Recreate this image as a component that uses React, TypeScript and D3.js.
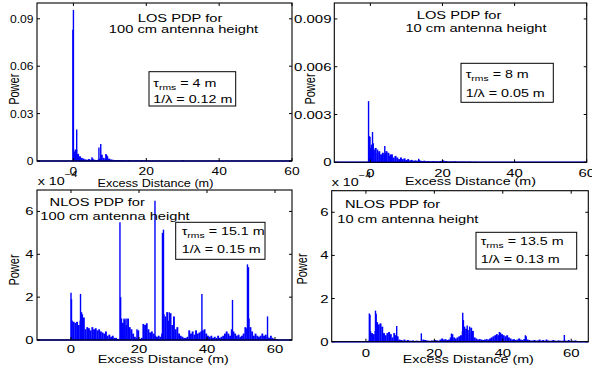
import React from "react";
import * as d3 from "d3";

const FONT = "'Liberation Sans', Arial, Helvetica, sans-serif";
const BLUE = "#0000ff";

// ---------- tick values / labels ----------
const xTicks = [0, 20, 40, 60];
const yTicksLos100 = [0, 0.03, 0.06, 0.09];
const yLabelsLos100 = ["0", "0.03", "0.06", "0.09"];
const yTicksLos10 = [0, 0.003, 0.006, 0.009];
const yLabelsLos10 = ["0", "0.003", "0.006", "0.009"];
const yTicksNlos = [0, 2, 4, 6];
const yLabelsNlos = ["0", "2", "4", "6"];

// ---------- LOS, 100 cm (power) : floor sampled every 0.5 m from 0 m ----------
const los100Floor = [
  0.006, 0.007, 0.0045, 0.003, 0.002, 0.0015, 0.001, 0.0008, 0.0012, 0.0008,
  0.0015, 0.0008, 0.0006, 0.0008, 0.0015, 0.004, 0.002, 0.0015, 0.003, 0.0015,
  0.001, 0.0008, 0.0006, 0.0005, 0.0006, 0.0004, 0.0005, 0.0003, 0.0004, 0.0003,
  0.0005, 0.0003, 0.0002, 0.0002, 0.0003, 0.0002, 0.0002, 0.0004, 0.0002, 0.0001,
  0.0001, 0.0001, 0.00005, 0.0001, 0.00005, 0.00005, 0.0001, 0.00005, 0.00005, 0.00005,
];
const los100Spikes: [number, number][] = [
  [-0.15, 0.083], [0, 0.0956], [0.9, 0.02], [0.5, 0.0073], [5.1, 0.0023],
  [7.0, 0.0085], [7.5, 0.0108], [8.9, 0.0045], [9.1, 0.004], [30, 0.0006],
];

// ---------- LOS, 10 cm (power) : floor every 0.5 m from -0.3 m ----------
const los10Floor = [
  0.0009, 0.0011, 0.0008, 0.0009, 0.0006, 0.0007, 0.0005, 0.0006, 0.0005, 0.0007,
  0.0006, 0.0004, 0.0005, 0.0003, 0.0004, 0.0003, 0.0002, 0.0003, 0.0002, 0.00025,
  0.00015, 0.0002, 0.00012, 0.00015, 0.0001, 0.00012, 0.0001, 0.00015, 0.0001, 0.00008,
  0.0001, 0.00006, 0.00008, 0.00006, 0.00005, 0.00008, 0.00005, 0.00006, 0.00005, 0.00008,
  0.0001, 0.00006, 0.00008, 0.00005, 0.00004, 0.00005, 0.00004, 0.00006, 0.00004, 0.00003,
  0.00004, 0.00003, 0.00004, 0.00003, 0.00003, 0.00004, 0.00003, 0.00002, 0.00003, 0.00002,
];
const los10Spikes: [number, number][] = [
  [-0.5, 0.00384], [-0.3, 0.00164], [-0.1, 0.0016], [0.3, 0.0011], [0.6, 0.0019],
  [0.8, 0.0012], [2.0, 0.0008], [4.0, 0.00103], [4.3, 0.0006], [5.5, 0.0005],
  [13.4, 0.00022], [20.3, 0.00012],
];

// ---------- NLOS, 100 cm (x1e-4) : floor every 0.5 m from 0 m ----------
const nlos100Floor = [
  0.9, 0.85, 0.8, 0.85, 0.7, 0.9, 1.2, 1.05, 0.5, 0.6,
  0.55, 0.45, 0.6, 0.5, 0.55, 0.45, 0.5, 0.4, 0.35, 0.3,
  0.4, 0.2, 0.25, 0.15, 0.2, 0.1, 0.1, 0.05, 0.02, 1.0,
  0.8, 0.95, 0.7, 1.0, 0.6, 0.5, 0.3, 0.15, 0.1, 0.45,
  0.05, 0.1, 0.75, 0.7, 0.78, 0.5, 0.35, 0.4, 0.3, 0.2,
  0.15, 0.2, 0.15, 0.3, 1.2, 1.1, 1.3, 0.9, 1.25, 0.7,
  1.1, 0.5, 0.6, 0.3, 0.2, 0.15, 0.1, 0.1, 0.15, 0.45,
  0.3, 0.4, 0.25, 0.45, 0.3, 0.35, 0.4, 0.45, 0.5, 0.3,
  0.2, 0.15, 0.2, 0.1, 0.15, 0.1, 0.2, 0.1, 0.15, 0.2,
  0.3, 0.4, 0.3, 0.2, 0.5, 0.4, 0.3, 0.2, 0.25, 0.15,
  0.2, 0.3, 0.6, 0.55, 1.0, 0.6, 0.4, 0.2, 0.3, 0.2,
  0.15, 0.2, 0.3, 0.2, 0.25, 0.15, 0.1, 0.2, 0.1, 0.05,
  0.03, 0.02,
];
const nlos100Spikes: [number, number][] = [
  [0, 2.2], [0.15, 1.9], [2.8, 2.15], [3.1, 1.3], [14.4, 5.5], [14.6, 2.0],
  [15.6, 1.0], [16.2, 1.0], [19.4, 0.5], [24.7, 6.5], [26.9, 5.0], [27.2, 5.15],
  [28.9, 1.3], [38.5, 2.15], [47.5, 1.87], [51.9, 3.53], [52.2, 3.4], [57.8, 1.1],
];

// ---------- NLOS, 10 cm (x1e-4) : floor every 0.5 m from 0 m ----------
const nlos10Floor = [
  0, 0.05, 0.5, 0.4, 0.35, 0.5, 0.9, 0.8, 0.85, 0.7,
  0.4, 0.3, 0.4, 0.45, 0.35, 0.2, 0.4, 0.3, 0.25, 0.1,
  0.08, 0.06, 0.1, 0.05, 0.08, 0.05, 0.04, 0.06, 0.03, 0.05,
  0.04, 0.03, 0.05, 0.1, 0.08, 0.06, 0.05, 0.04, 0.06, 0.05,
  0.08, 0.06, 0.05, 0.1, 0.15, 0.1, 0.12, 0.08, 0.1, 0.2,
  0.35, 0.2, 0.15, 0.2, 0.25, 0.3, 0.5, 0.7, 0.6, 0.55,
  0.4, 0.65, 0.5, 0.2, 0.15, 0.1, 0.12, 0.1, 0.08, 0.1,
  0.12, 0.1, 0.15, 0.2, 0.25, 0.3, 0.35, 0.3, 0.42, 0.35,
  0.3, 0.25, 0.3, 0.2, 0.15, 0.1, 0.12, 0.08, 0.1, 0.15,
  0.1, 0.08, 0.12, 0.25, 0.1, 0.08, 0.05, 0.06, 0.08, 0.05,
  0.06, 0.1, 0.05, 0.08, 0.05, 0.1, 0.06, 0.04, 0.05, 0.08,
  0.05, 0.04, 0.06, 0.05, 0.04, 0.05, 0.05, 0.04, 0.08, 0.03,
  0.05, 0.04, 0.06, 0.03, 0.02,
];
const nlos10Spikes: [number, number][] = [
  [1.0, 1.31], [1.2, 1.25], [2.8, 1.44], [3.0, 1.3], [3.3, 0.9], [9.0, 0.73],
  [16.2, 0.39], [25.0, 0.38], [28.3, 1.34], [28.5, 1.0], [29.6, 0.75], [30.3, 0.7],
  [39.0, 0.45], [46.6, 0.3], [58.0, 0.31],
];

type PanelCfg = {
  box: [number, number, number, number];
  xDomain: [number, number];
  yDomain: [number, number];
  floorStart: number;
  floor: number[];
  spikes: [number, number][];
  yTicks: number[];
  yLabels: string[];
  xTickY: number;
  yTickX: number;
  ySx: number;
  xSx: number;
  ylabel: [number, number];
  xlabel: [number, number, number];
  title: [string, number, number][];
  annot: [number, number, number, number];
  annotX: number;
  annotY: [number, number];
  tau: string;
  lam: string;
  expo?: [number, number];
};

const FLOOR_STEP = 0.5;

const panels: PanelCfg[] = [
  {
    box: [37, 292, 3, 161], xDomain: [-10, 60], yDomain: [0, 0.1],
    floorStart: 0, floor: los100Floor, spikes: los100Spikes,
    yTicks: yTicksLos100, yLabels: yLabelsLos100,
    xTickY: 175, yTickX: 33.5, ySx: 1.05, xSx: 1.2,
    ylabel: [15, 89.3], xlabel: [155.4, 187, 1.15],
    title: [["LOS PDP for", 180, 21.7], ["100 cm antenna height", 183.5, 33.3]],
    annot: [149, 71.7, 235.7, 106], annotX: 153.3, annotY: [86.7, 102.7],
    tau: "4 m", lam: "0.12 m",
  },
  {
    box: [334.3, 586.7, 3, 162.3], xDomain: [-10, 60], yDomain: [0, 0.01],
    floorStart: -0.3, floor: los10Floor, spikes: los10Spikes,
    yTicks: yTicksLos10, yLabels: yLabelsLos10,
    xTickY: 177, yTickX: 331.5, ySx: 1.3, xSx: 1.3,
    ylabel: [311, 89], xlabel: [470.5, 185, 1.3],
    title: [["LOS PDP for", 459, 19], ["10 cm antenna height", 476, 31.7]],
    annot: [461, 63.3, 553.3, 102.3], annotX: 465.7, annotY: [78.3, 96.7],
    tau: "8 m", lam: "0.05 m",
  },
  {
    box: [37, 292, 190, 340], xDomain: [-10, 65], yDomain: [0, 7],
    floorStart: 0, floor: nlos100Floor, spikes: nlos100Spikes,
    yTicks: yTicksNlos, yLabels: yLabelsNlos,
    xTickY: 353, yTickX: 33.5, ySx: 1.3, xSx: 1.3,
    ylabel: [15, 270], xlabel: [163.3, 362.7, 1.3],
    title: [["NLOS PDP for", 97.2, 205.7], ["100 cm antenna height", 115, 220]],
    annot: [175.7, 222.3, 265, 259.3], annotX: 181.7, annotY: [235, 253.3],
    tau: "15.1 m", lam: "0.15 m", expo: [37.7, 185],
  },
  {
    box: [331.7, 588.3, 190.7, 341.7], xDomain: [-10, 65], yDomain: [0, 7],
    floorStart: 0, floor: nlos10Floor, spikes: nlos10Spikes,
    yTicks: yTicksNlos, yLabels: yLabelsNlos,
    xTickY: 356.7, yTickX: 328.5, ySx: 1.3, xSx: 1.3,
    ylabel: [303, 269], xlabel: [468.3, 362.7, 1.3],
    title: [["NLOS PDP for", 392.5, 207.5], ["10 cm antenna height", 407.8, 222.5]],
    annot: [476, 232.3, 576.7, 269], annotX: 480.7, annotY: [245, 263.3],
    tau: "13.5 m", lam: "0.13 m", expo: [331.7, 186],
  },
];

function T(props: {
  x: number; y: number; sx?: number; size?: number; anchor?: string; rotate?: number;
  children: React.ReactNode;
}) {
  const { x, y, sx = 1.3, size = 11, anchor = "start", rotate = 0, children } = props;
  return (
    <text
      transform={`translate(${x},${y}) scale(${sx},1)${rotate ? ` rotate(${rotate})` : ""}`}
      fontSize={size}
      textAnchor={anchor as any}
      fontFamily={FONT}
      fill="#000"
    >
      {children}
    </text>
  );
}

function Panel({ p }: { p: PanelCfg }) {
  const [bx0, bx1, by0, by1] = p.box;
  const x = d3.scaleLinear().domain(p.xDomain).range([bx0, bx1]);
  const y = d3.scaleLinear().domain(p.yDomain).range([by1, by0]);
  const tk = 3;
  return (
    <g>
      {/* baseline of the trace */}
      <line x1={bx0} x2={bx1} y1={y(0)} y2={y(0)} stroke={BLUE} strokeWidth={1.4} />
      {p.floor.map((v, i) => {
        const d = p.floorStart + i * FLOOR_STEP;
        return (
          <rect key={"f" + i} x={x(d)} y={y(v)} width={x(d + FLOOR_STEP) - x(d) + 0.2}
            height={Math.max(0, y(0) - y(v))} fill={BLUE} />
        );
      })}
      {p.spikes.map(([d, v], i) => (
        <line key={"s" + i} x1={x(d)} x2={x(d)} y1={y(0)} y2={y(v)} stroke={BLUE} strokeWidth={1.4} />
      ))}
      {/* axes box */}
      <rect x={bx0} y={by0} width={bx1 - bx0} height={by1 - by0} fill="none" stroke="#000" strokeWidth={1.1} />
      {xTicks.map((t) => (
        <g key={"xt" + t}>
          <line x1={x(t)} x2={x(t)} y1={by1} y2={by1 - tk} stroke="#000" />
          <line x1={x(t)} x2={x(t)} y1={by0} y2={by0 + tk} stroke="#000" />
          <T x={x(t)} y={p.xTickY} anchor="middle" size={11.5} sx={p.xSx}>{String(t)}</T>
        </g>
      ))}
      {p.yTicks.map((t, i) => (
        <g key={"yt" + i}>
          <line x1={bx0} x2={bx0 + tk} y1={y(t)} y2={y(t)} stroke="#000" />
          <line x1={bx1} x2={bx1 - tk} y1={y(t)} y2={y(t)} stroke="#000" />
          <T x={p.yTickX} y={y(t) + 4} anchor="end" size={11.5} sx={p.ySx}>{p.yLabels[i]}</T>
        </g>
      ))}
      <T x={p.ylabel[0] + 4} y={p.ylabel[1]} anchor="middle" size={11} rotate={-90}>Power</T>
      <T x={p.xlabel[0]} y={p.xlabel[1]} anchor="middle" size={11} sx={p.xlabel[2]}>Excess Distance (m)</T>
      {p.title.map(([s, cx, cy], i) => (
        <T key={"ti" + i} x={cx} y={cy} anchor="middle" size={11.3}>{s}</T>
      ))}
      <rect x={p.annot[0]} y={p.annot[1]} width={p.annot[2] - p.annot[0]} height={p.annot[3] - p.annot[1]}
        fill="#fff" stroke="#000" strokeWidth={1} />
      <T x={p.annotX} y={p.annotY[0]} size={11}>
        <tspan>τ</tspan>
        <tspan fontSize={8} dy={3}>rms</tspan>
        <tspan dy={-3}>{" = " + p.tau}</tspan>
      </T>
      <T x={p.annotX} y={p.annotY[1]} size={11}>{"1/λ = " + p.lam}</T>
      {p.expo && (
        <T x={p.expo[0]} y={p.expo[1]} size={11}>
          <tspan>x 10</tspan>
          <tspan fontSize={8.5} dy={-8}>−4</tspan>
        </T>
      )}
    </g>
  );
}

export default function App() {
  return (
    <svg width={592} height={375} style={{ position: "absolute", left: 0, top: 0, background: "#fff" }}>
      <rect x={0} y={0} width={592} height={375} fill="#fff" />
      {panels.map((p, i) => (
        <Panel key={i} p={p} />
      ))}
    </svg>
  );
}
